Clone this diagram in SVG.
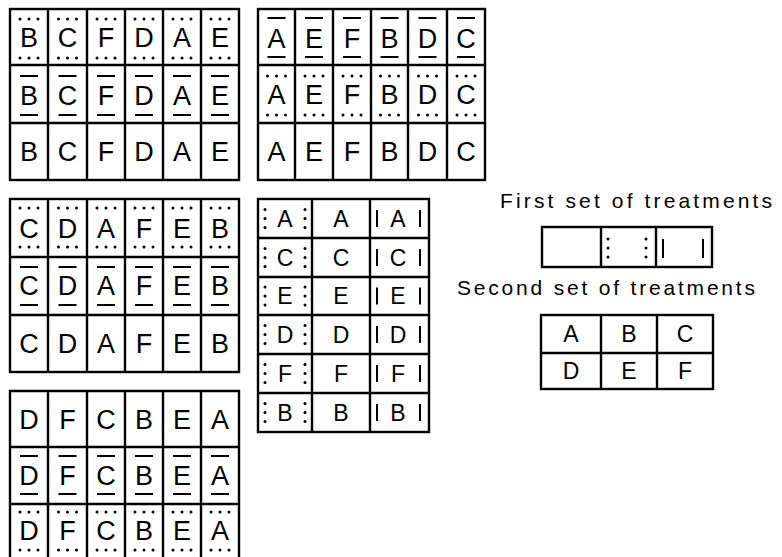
<svg xmlns="http://www.w3.org/2000/svg" xmlns:xlink="http://www.w3.org/1999/xlink" width="782" height="557" viewBox="0 0 782 557">
<style>
.g{fill:none;stroke:#000;stroke-width:2.4}
.L{font-family:"Liberation Sans","DejaVu Sans",sans-serif;font-size:27px;text-anchor:middle;fill:#000}
.S{font-family:"Liberation Sans","DejaVu Sans",sans-serif;font-size:23px;text-anchor:middle;fill:#000}
.T{font-family:"Liberation Sans","DejaVu Sans",sans-serif;font-size:21px;fill:#000}
.sl{stroke:#000;stroke-width:2;fill:none}
</style>
<defs>
<g id="dh"><circle cx="-9" cy="0" r="1.5"/><circle cx="0" cy="0" r="1.5"/><circle cx="9" cy="0" r="1.5"/></g>
<g id="dv"><circle cx="0" cy="-9" r="1.5"/><circle cx="0" cy="0" r="1.5"/><circle cx="0" cy="9" r="1.5"/></g>
</defs>
<rect width="782" height="557" fill="#fff"/>

<!-- Block 1 -->
<g id="block1">
<rect class="g" x="10" y="9" width="229" height="171"/>
<path class="g" d="M48 9V180M87 9V180M125 9V180M163 9V180M201 9V180M10 65H239M10 123H239"/>
<g class="L">
<text x="29" y="47">B</text><text x="67.5" y="47">C</text><text x="106" y="47">F</text><text x="144" y="47">D</text><text x="182" y="47">A</text><text x="220" y="47">E</text>
<text x="29" y="105">B</text><text x="67.5" y="105">C</text><text x="106" y="105">F</text><text x="144" y="105">D</text><text x="182" y="105">A</text><text x="220" y="105">E</text>
<text x="29" y="161">B</text><text x="67.5" y="161">C</text><text x="106" y="161">F</text><text x="144" y="161">D</text><text x="182" y="161">A</text><text x="220" y="161">E</text>
</g>
<use xlink:href="#dh" x="29" y="19"/><use xlink:href="#dh" x="67.5" y="19"/><use xlink:href="#dh" x="106" y="19"/><use xlink:href="#dh" x="144" y="19"/><use xlink:href="#dh" x="182" y="19"/><use xlink:href="#dh" x="220" y="19"/>
<use xlink:href="#dh" x="29" y="58"/><use xlink:href="#dh" x="67.5" y="58"/><use xlink:href="#dh" x="106" y="58"/><use xlink:href="#dh" x="144" y="58"/><use xlink:href="#dh" x="182" y="58"/><use xlink:href="#dh" x="220" y="58"/>
<path class="sl" d="M20 76h18M58.5 76h18M97 76h18M135 76h18M173 76h18M211 76h18M20 115h18M58.5 115h18M97 115h18M135 115h18M173 115h18M211 115h18"/>
</g>

<!-- Block 2 -->
<g id="block2">
<rect class="g" x="258" y="9" width="227" height="171"/>
<path class="g" d="M295 9V180M333 9V180M371 9V180M408 9V180M447 9V180M258 65H485M258 123H485"/>
<g class="L">
<text x="276.5" y="48">A</text><text x="314" y="48">E</text><text x="352" y="48">F</text><text x="389.5" y="48">B</text><text x="427.5" y="48">D</text><text x="466" y="48">C</text>
<text x="276.5" y="104">A</text><text x="314" y="104">E</text><text x="352" y="104">F</text><text x="389.5" y="104">B</text><text x="427.5" y="104">D</text><text x="466" y="104">C</text>
<text x="276.5" y="161">A</text><text x="314" y="161">E</text><text x="352" y="161">F</text><text x="389.5" y="161">B</text><text x="427.5" y="161">D</text><text x="466" y="161">C</text>
</g>
<path class="sl" d="M267.5 18h18M305 18h18M343 18h18M380.5 18h18M418.5 18h18M457 18h18M267.5 57h18M305 57h18M343 57h18M380.5 57h18M418.5 57h18M457 57h18"/>
<use xlink:href="#dh" x="276.5" y="76"/><use xlink:href="#dh" x="314" y="76"/><use xlink:href="#dh" x="352" y="76"/><use xlink:href="#dh" x="389.5" y="76"/><use xlink:href="#dh" x="427.5" y="76"/><use xlink:href="#dh" x="466" y="76"/>
<use xlink:href="#dh" x="276.5" y="115"/><use xlink:href="#dh" x="314" y="115"/><use xlink:href="#dh" x="352" y="115"/><use xlink:href="#dh" x="389.5" y="115"/><use xlink:href="#dh" x="427.5" y="115"/><use xlink:href="#dh" x="466" y="115"/>
</g>

<!-- Block 3 -->
<g id="block3">
<rect class="g" x="10" y="199" width="229" height="173"/>
<path class="g" d="M48 199V372M87 199V372M125 199V372M163 199V372M201 199V372M10 257H239M10 315H239"/>
<g class="L">
<text x="29" y="238">C</text><text x="67.5" y="238">D</text><text x="106" y="238">A</text><text x="144" y="238">F</text><text x="182" y="238">E</text><text x="220" y="238">B</text>
<text x="29" y="295">C</text><text x="67.5" y="295">D</text><text x="106" y="295">A</text><text x="144" y="295">F</text><text x="182" y="295">E</text><text x="220" y="295">B</text>
<text x="29" y="353">C</text><text x="67.5" y="353">D</text><text x="106" y="353">A</text><text x="144" y="353">F</text><text x="182" y="353">E</text><text x="220" y="353">B</text>
</g>
<use xlink:href="#dh" x="29" y="208"/><use xlink:href="#dh" x="67.5" y="208"/><use xlink:href="#dh" x="106" y="208"/><use xlink:href="#dh" x="144" y="208"/><use xlink:href="#dh" x="182" y="208"/><use xlink:href="#dh" x="220" y="208"/>
<use xlink:href="#dh" x="29" y="247"/><use xlink:href="#dh" x="67.5" y="247"/><use xlink:href="#dh" x="106" y="247"/><use xlink:href="#dh" x="144" y="247"/><use xlink:href="#dh" x="182" y="247"/><use xlink:href="#dh" x="220" y="247"/>
<path class="sl" d="M20 267h18M58.5 267h18M97 267h18M135 267h18M173 267h18M211 267h18M20 305h18M58.5 305h18M97 305h18M135 305h18M173 305h18M211 305h18"/>
</g>

<!-- Block 4 -->
<g id="block4">
<rect class="g" x="258" y="199" width="171" height="233"/>
<path class="g" d="M312 199V432M370 199V432M258 238H429M258 277H429M258 315H429M258 354H429M258 393H429"/>
<g class="S">
<text x="285" y="226.5">A</text><text x="341" y="226.5">A</text><text x="398" y="226.5">A</text>
<text x="285" y="265.5">C</text><text x="341" y="265.5">C</text><text x="398" y="265.5">C</text>
<text x="285" y="304">E</text><text x="341" y="304">E</text><text x="398" y="304">E</text>
<text x="285" y="342.5">D</text><text x="341" y="342.5">D</text><text x="398" y="342.5">D</text>
<text x="285" y="381.5">F</text><text x="341" y="381.5">F</text><text x="398" y="381.5">F</text>
<text x="285" y="420.5">B</text><text x="341" y="420.5">B</text><text x="398" y="420.5">B</text>
</g>
<use xlink:href="#dv" x="265" y="218.5"/><use xlink:href="#dv" x="305" y="218.5"/>
<use xlink:href="#dv" x="265" y="257.5"/><use xlink:href="#dv" x="305" y="257.5"/>
<use xlink:href="#dv" x="265" y="296"/><use xlink:href="#dv" x="305" y="296"/>
<use xlink:href="#dv" x="265" y="334.5"/><use xlink:href="#dv" x="305" y="334.5"/>
<use xlink:href="#dv" x="265" y="373.5"/><use xlink:href="#dv" x="305" y="373.5"/>
<use xlink:href="#dv" x="265" y="412.5"/><use xlink:href="#dv" x="305" y="412.5"/>
<path class="sl" d="M377 210v17M420 210v17M377 249v17M420 249v17M377 287.5v17M420 287.5v17M377 326v17M420 326v17M377 365v17M420 365v17M377 404v17M420 404v17"/>
</g>

<!-- Block 5 -->
<g id="block5">
<path class="g" d="M10 565V391H239V565M48 391V565M87 391V565M125 391V565M163 391V565M201 391V565M10 447H239M10 504H239"/>
<g class="L">
<text x="29" y="429">D</text><text x="67.5" y="429">F</text><text x="106" y="429">C</text><text x="144" y="429">B</text><text x="182" y="429">E</text><text x="220" y="429">A</text>
<text x="29" y="485">D</text><text x="67.5" y="485">F</text><text x="106" y="485">C</text><text x="144" y="485">B</text><text x="182" y="485">E</text><text x="220" y="485">A</text>
<text x="29" y="540">D</text><text x="67.5" y="540">F</text><text x="106" y="540">C</text><text x="144" y="540">B</text><text x="182" y="540">E</text><text x="220" y="540">A</text>
</g>
<path class="sl" d="M20 456h18M58.5 456h18M97 456h18M135 456h18M173 456h18M211 456h18M20 494h18M58.5 494h18M97 494h18M135 494h18M173 494h18M211 494h18"/>
<use xlink:href="#dh" x="29" y="512"/><use xlink:href="#dh" x="67.5" y="512"/><use xlink:href="#dh" x="106" y="512"/><use xlink:href="#dh" x="144" y="512"/><use xlink:href="#dh" x="182" y="512"/><use xlink:href="#dh" x="220" y="512"/>
<use xlink:href="#dh" x="29" y="550"/><use xlink:href="#dh" x="67.5" y="550"/><use xlink:href="#dh" x="106" y="550"/><use xlink:href="#dh" x="144" y="550"/><use xlink:href="#dh" x="182" y="550"/><use xlink:href="#dh" x="220" y="550"/>
</g>

<!-- Legend: first set -->
<g id="legend1">
<text class="T" x="500" y="208" textLength="272" lengthAdjust="spacing">First set of treatments</text>
<rect class="g" x="542" y="227" width="170" height="40"/>
<path class="g" d="M601 227V267M656 227V267"/>
<use xlink:href="#dv" x="608" y="248"/><use xlink:href="#dv" x="646" y="248"/>
<path class="sl" d="M663 239v19M703 239v19"/>
</g>

<!-- Legend: second set -->
<g id="legend2">
<text class="T" x="457" y="295" textLength="298" lengthAdjust="spacing">Second set of treatments</text>
<rect class="g" x="541" y="315" width="172" height="74"/>
<path class="g" d="M601 315V389M657 315V389M541 353H713"/>
<g class="S">
<text x="571" y="342">A</text><text x="629" y="342">B</text><text x="685" y="342">C</text>
<text x="571" y="379">D</text><text x="629" y="379">E</text><text x="685" y="379">F</text>
</g>
</g>
</svg>
